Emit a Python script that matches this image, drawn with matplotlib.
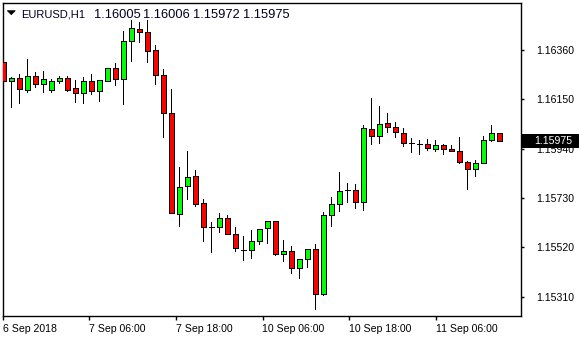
import matplotlib
matplotlib.use("Agg")
import matplotlib.pyplot as plt
from matplotlib.patches import Rectangle, Polygon
from matplotlib.transforms import blended_transform_factory

# ---- data (EURUSD H1) ----
opens = [1.16308, 1.16228, 1.16240, 1.16189, 1.16248, 1.16214, 1.16191, 1.16227, 1.16240, 1.16197,
         1.16176, 1.16227, 1.16184, 1.16229, 1.16282, 1.16235, 1.16397, 1.16448, 1.16435, 1.16359,
         1.16252, 1.16091, 1.15661, 1.15780, 1.15823, 1.15708, 1.15607, 1.15608, 1.15644, 1.15576,
         1.15509, 1.15508, 1.15546, 1.15601, 1.15634, 1.15493, 1.15503, 1.15434, 1.15469, 1.15512,
         1.15323, 1.15657, 1.15703, 1.15763, 1.15763, 1.15712, 1.16023, 1.15993, 1.16048, 1.16031,
         1.16006, 1.15966, 1.15961, 1.15959, 1.15937, 1.15954, 1.15937, 1.15929, 1.15885, 1.15855,
         1.15880, 1.15976, 1.16005]
highs = [1.16320, 1.16244, 1.16257, 1.16320, 1.16265, 1.16271, 1.16235, 1.16248, 1.16248, 1.16231,
         1.16244, 1.16257, 1.16231, 1.16282, 1.16303, 1.16441, 1.16486, 1.16478, 1.16486, 1.16380,
         1.16278, 1.16193, 1.15861, 1.15929, 1.15848, 1.15725, 1.15627, 1.15665, 1.15657, 1.15605,
         1.15567, 1.15593, 1.15599, 1.15634, 1.15634, 1.15551, 1.15525, 1.15469, 1.15512, 1.15533,
         1.15670, 1.15733, 1.15841, 1.15793, 1.15788, 1.16040, 1.16154, 1.16120, 1.16091, 1.16052,
         1.16027, 1.15984, 1.15976, 1.15980, 1.15976, 1.15959, 1.15954, 1.15988, 1.15889, 1.15893,
         1.15993, 1.16040, 1.16006]
lows = [1.16048, 1.16119, 1.16136, 1.16183, 1.16204, 1.16183, 1.16183, 1.16218, 1.16187, 1.16140,
        1.16136, 1.16171, 1.16144, 1.16227, 1.16210, 1.16132, 1.16315, 1.16395, 1.16310, 1.16217,
        1.15991, 1.15665, 1.15612, 1.15725, 1.15697, 1.15548, 1.15502, 1.15587, 1.15576, 1.15506,
        1.15468, 1.15476, 1.15536, 1.15540, 1.15489, 1.15463, 1.15412, 1.15391, 1.15438, 1.15259,
        1.15319, 1.15612, 1.15676, 1.15712, 1.15689, 1.15680, 1.15961, 1.15966, 1.16010, 1.15991,
        1.15953, 1.15927, 1.15919, 1.15933, 1.15929, 1.15919, 1.15929, 1.15880, 1.15770, 1.15825,
        1.15880, 1.15971, 1.15972]
closes = [1.16228, 1.16240, 1.16193, 1.16248, 1.16215, 1.16235, 1.16227, 1.16240, 1.16191, 1.16176,
          1.16227, 1.16184, 1.16231, 1.16282, 1.16235, 1.16397, 1.16452, 1.16435, 1.16354, 1.16252,
          1.16091, 1.15665, 1.15776, 1.15818, 1.15703, 1.15605, 1.15607, 1.15644, 1.15576, 1.15519,
          1.15509, 1.15546, 1.15599, 1.15634, 1.15493, 1.15503, 1.15434, 1.15469, 1.15512, 1.15323,
          1.15657, 1.15703, 1.15759, 1.15763, 1.15712, 1.16027, 1.15993, 1.16044, 1.16031, 1.16010,
          1.15963, 1.15966, 1.15961, 1.15942, 1.15954, 1.15937, 1.15929, 1.15885, 1.15855, 1.15880,
          1.15976, 1.16006, 1.15975]

price_ticks = [1.15310, 1.15520, 1.15730, 1.15940, 1.16150, 1.16360]
time_tick_pos = [-0.08, 10.75, 21.6, 32.4, 43.25, 54.1]
time_tick_labels = ["6 Sep 2018", "7 Sep 06:00", "7 Sep 18:00", "10 Sep 06:00", "10 Sep 18:00", "11 Sep 06:00"]
symbol = "EURUSD,H1"

# ---- figure ----
W, H = 580, 340
fig = plt.figure(figsize=(W / 100, H / 100), dpi=100)
fig.patch.set_facecolor("white")
ax_l, ax_r, ax_t, ax_b = 2.5, 520.5, 3.3, 316.0
ax = fig.add_axes([ax_l / W, (H - ax_b) / H, (ax_r - ax_l) / W, (ax_b - ax_t) / H])
ax.set_facecolor("white")

FONT = "Liberation Sans"
LW = 0.7

x = list(range(len(opens)))
# wicks
ax.vlines(x, lows, highs, color="black", linewidth=LW, zorder=2, antialiased=False)
# bodies
body_bottom = [min(o, c) for o, c in zip(opens, closes)]
body_height = [abs(c - o) for o, c in zip(opens, closes)]
colors = ["#00FF00" if c > o else ("#FF0000" if c < o else "black") for o, c in zip(opens, closes)]
ax.bar(x, body_height, bottom=body_bottom, width=0.62, color=colors, edgecolor="black",
       linewidth=LW, zorder=3, antialiased=False)

ax.set_xlim(-0.1, 64.65)
ax.set_ylim(1.15228, 1.16559)

for s in ax.spines.values():
    s.set_linewidth(1.0)
    s.set_color("black")

# y axis on the right
ax.yaxis.tick_right()
ax.set_yticks(price_ticks)
ax.set_yticklabels([f"{p:.5f}" for p in price_ticks], fontfamily=FONT, fontsize=7.6)
ax.tick_params(axis="y", which="both", direction="out", length=2.5, width=1, pad=8.6,
               left=False, right=True, colors="black")

# x axis
ax.set_xticks(time_tick_pos)
ax.set_xticklabels(time_tick_labels, fontfamily=FONT, fontsize=7.6)
for lab in ax.get_xticklabels():
    lab.set_horizontalalignment("left")
ax.tick_params(axis="x", which="both", direction="out", length=3, width=1, pad=2.5, colors="black")

# last price box
ylo, yhi = ax.get_ylim()
px_per_unit = (ax_b - ax_t) / (yhi - ylo)
box_h = 14 / px_per_unit
trans = blended_transform_factory(fig.transFigure, ax.transData)
last = closes[-1]
rect = Rectangle((521.5 / W, last - box_h / 2), (578.5 - 521.5) / W, box_h, transform=trans,
                 facecolor="black", edgecolor="none", clip_on=False, zorder=10)
ax.add_artist(rect)
ax.text(534.5 / W, last, f"{last:.5f}", transform=trans, color="white", fontfamily=FONT,
        fontsize=7.6, va="center", ha="left", clip_on=False, zorder=11)

# title with triangle
tri = Polygon([[7.3 / W, 1 - 10.7 / H], [15.3 / W, 1 - 10.7 / H], [11.3 / W, 1 - 14.7 / H]],
              closed=True, transform=fig.transFigure, facecolor="black", edgecolor="black",
              linewidth=0.5)
fig.patches.append(tri)
title_vals = [opens[-1], highs[-1], lows[-1], closes[-1]]
title_x = [94.3, 143.5, 193.0, 243.0]
base_y = 1 - 17.5 / H
fig.text(21 / W, base_y, symbol, fontfamily=FONT, fontsize=8.0, color="#000022",
         va="baseline", ha="left")
for tx, v in zip(title_x, title_vals):
    fig.text(tx / W, base_y, f"{v:.5f}", fontfamily=FONT, fontsize=9.3, color="#000022",
             va="baseline", ha="left")

fig.savefig("out.png", dpi=100, facecolor="white")
